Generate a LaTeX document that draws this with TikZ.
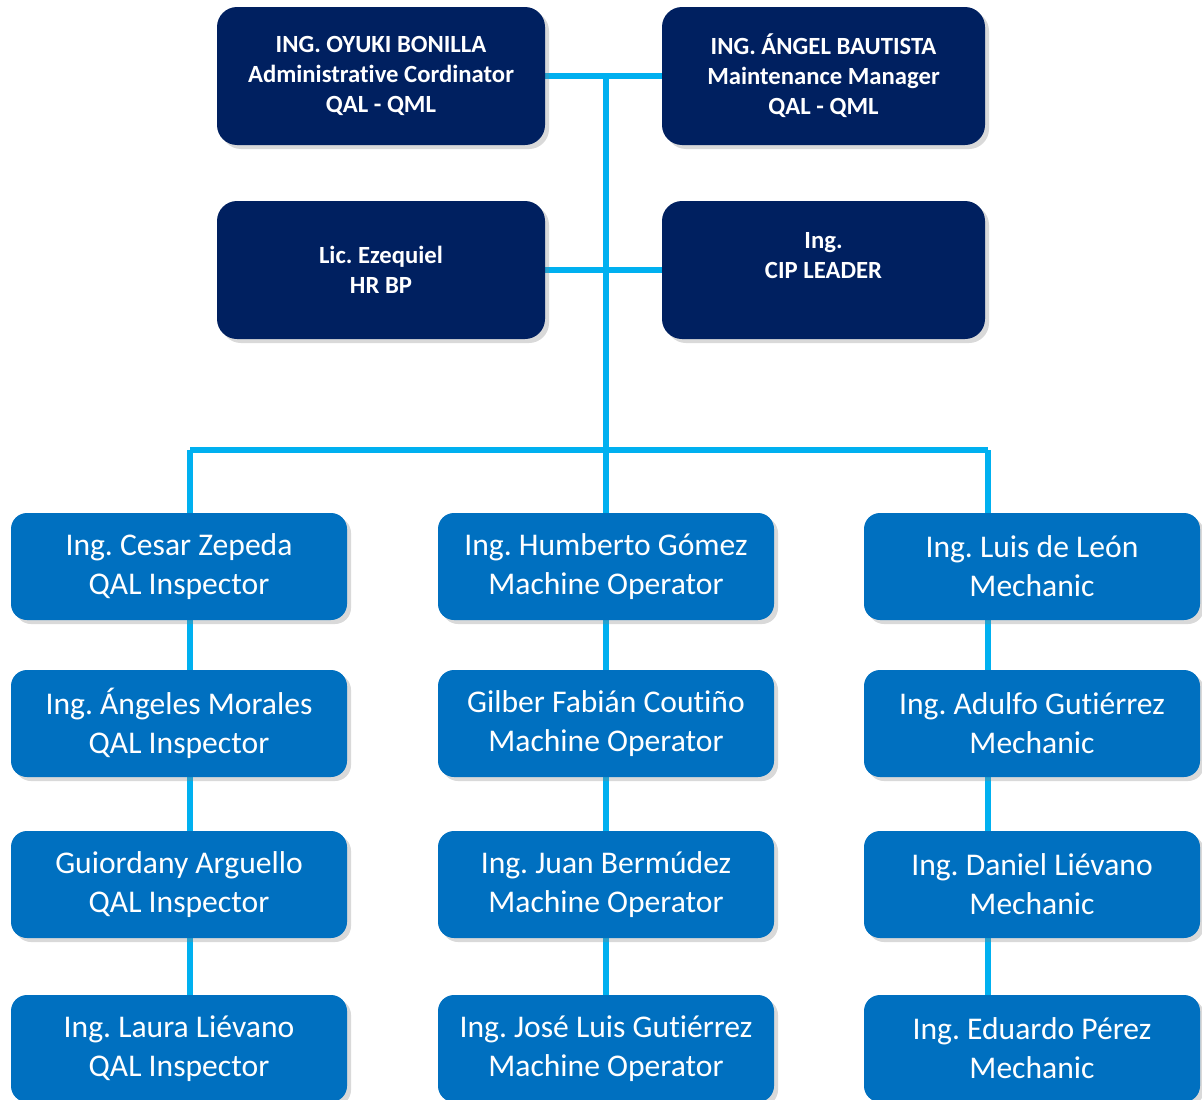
\documentclass[tikz,border=0pt]{standalone}
\usepackage{fontspec}
\setmainfont[Ligatures={NoCommon,NoContextual},Contextuals=NoAlternate]{Carlito}
\usetikzlibrary{positioning,shadows,backgrounds}
\frenchspacing

\definecolor{navybox}{HTML}{002060}
\definecolor{bluebox}{HTML}{0070C0}
\definecolor{linkblue}{HTML}{00B0F0}

\begin{document}
\begin{tikzpicture}[x=1pt,y=-1pt,
	headbox/.style={fill=navybox,text=white,rounded corners=20pt,
		minimum width=328pt,minimum height=138pt,align=center,
		font=\fontsize{24.7}{30}\selectfont\bfseries,
		drop shadow={opacity=0.3,shadow xshift=4pt,shadow yshift=-4pt}},
	staffbox/.style={fill=bluebox,text=white,rounded corners=16pt,
		minimum width=336pt,minimum height=107pt,align=center,
		font=\fontsize{31.6}{39}\selectfont,
		drop shadow={opacity=0.3,shadow xshift=4pt,shadow yshift=-4pt}},
	link/.style={draw=linkblue,line width=6pt}]

\useasboundingbox (0,0) rectangle (1202,1100);

\coordinate (top) at (606,76);
\coordinate (hub) at (606,450);
\coordinate (busL) at (190,450);
\coordinate (busR) at (988,450);

% management
\node (oyuki) at (381,76) [headbox]{ING. OYUKI BONILLA\\Administrative Cordinator\\QAL - QML};
\node (angel) at (823.5,76) [headbox,minimum width=323pt]{ING. ÁNGEL BAUTISTA\\Maintenance Manager\\QAL - QML};
\node (ezequiel) at (381,270) [headbox]{Lic. Ezequiel\\HR BP};
\node (cip) at (823.5,270) [headbox,minimum width=323pt]{Ing.\\CIP LEADER\\\mbox{}};

% inspectors
\node (cesar) at (179,566.5) [staffbox]{Ing. Cesar Zepeda\\QAL Inspector};
\node (angeles) at (179,723.5) [staffbox]{Ing. Ángeles Morales\\QAL Inspector};
\node (guiordany) at (179,884.5) [staffbox]{Guiordany Arguello\\QAL Inspector};
\node (laura) at (179,1048.5) [staffbox]{Ing. Laura Liévano\\QAL Inspector};

% operators
\node (humberto) at (606,566.5) [staffbox]{Ing. Humberto Gómez\\Machine Operator};
\node (gilber) at (606,723.5) [staffbox]{Gilber Fabián Coutiño\\Machine Operator};
\node (juan) at (606,884.5) [staffbox]{Ing. Juan Bermúdez\\Machine Operator};
\node (jose) at (606,1048.5) [staffbox]{Ing. José Luis Gutiérrez\\Machine Operator};

% mechanics
\node (luis) at (1032,566.5) [staffbox]{Ing. Luis de León\\Mechanic};
\node (adulfo) at (1032,723.5) [staffbox]{Ing. Adulfo Gutiérrez\\Mechanic};
\node (daniel) at (1032,884.5) [staffbox]{Ing. Daniel Liévano\\Mechanic};
\node (eduardo) at (1032,1048.5) [staffbox]{Ing. Eduardo Pérez\\Mechanic};

\begin{scope}[on background layer]
\draw [link] (oyuki.east) -- (angel.west);
\draw [link] (ezequiel.east) -- (cip.west);
\draw [link] (top) -- (hub);
\draw [link] (busL) -- (busR);
\draw [link] (busL) -- (busL |- laura.north);
\draw [link] (hub) -- (jose.north);
\draw [link] (busR) -- (busR |- eduardo.north);
\end{scope}

\end{tikzpicture}
\end{document}
